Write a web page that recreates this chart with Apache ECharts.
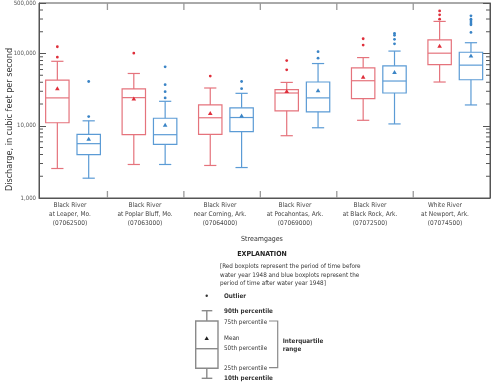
<!DOCTYPE html>
<html>
<head>
<meta charset="utf-8">
<script src="https://cdn.jsdelivr.net/npm/echarts@6/dist/echarts.min.js"></script>
<style>html,body{margin:0;padding:0;background:#fff;}#c{width:491px;height:384px;}</style>
</head>
<body>
<div id="c"></div>
<script>
// ---------------- data ----------------
const categories = [
  "Black River\nat Leaper, Mo.\n(07062500)",
  "Black River\nat Poplar Bluff, Mo.\n(07063000)",
  "Black River\nnear Corning, Ark.\n(07064000)",
  "Black River\nat Pocahontas, Ark.\n(07069000)",
  "Black River\nat Black Rock, Ark.\n(07072500)",
  "White River\nat Newport, Ark.\n(07074500)"
];
// Red: before water year 1948
const redP10    = [2560, 2910, 2820, 7280, 11900, 40300];
const redQ1     = [11000, 7520, 7590, 16100, 23700, 70300];
const redMedian = [24300, 24500, 12900, 28400, 42000, 101000];
const redQ3     = [42900, 32300, 19400, 31600, 63400, 154000];
const redP90    = [78000, 52900, 33300, 39800, 87800, 278000];
const redMean   = [32600, 23500, 14800, 29900, 47200, 126000];
const redOutliers = [[124000, 89000], [101000], [48700], [79900, 59500], [160000, 131000], [389000, 343000, 299000]];
// Blue: after water year 1948
const blueP10    = [1880, 2910, 2640, 9380, 10600, 19400];
const blueQ1     = [3990, 5530, 8270, 15600, 28400, 43300];
const blueMedian = [5650, 7520, 13000, 24300, 41600, 69000];
const blueQ3     = [7590, 12700, 17700, 40300, 67500, 104000];
const blueP90    = [11700, 21800, 28100, 72600, 108000, 141000];
const blueMean   = [6540, 10200, 13700, 30600, 54600, 92700];
const blueOutliers = [[41000, 13400], [65400, 37000, 29600, 24300], [41000, 32600], [106000, 86100], [190000, 179000, 157000, 136000], [332000, 299000, 281000, 264000, 250000, 196000]];
// axis decorations
const minorTickValues = [2000,3000,4000,5000,6000,7000,8000,9000,20000,30000,40000,50000,60000,70000,80000,90000,200000,300000,400000];
const groupEdges = [0.5, 1.5, 2.5, 3.5, 4.5];

// ---------------- styles ----------------
const FONT = '"Liberation Sans Narrow", "DejaVu Sans Condensed", "Liberation Sans", sans-serif';
const RED = '#e5737c', RED_MARK = '#df2f3b';
const BLUE = '#5b9bd5', BLUE_MARK = '#3a84c6';
const AXIS = '#555';
const RED_OFF = -0.155, BLUE_OFF = 0.255, BOX_HALF = 0.153, CAP_HALF = 0.08;

function boxData(p10, q1, med, q3, p90, mean) {
  return p10.map((v, i) => [i, v, q1[i], med[i], q3[i], p90[i], mean[i]]);
}
function outlierData(list) {
  const out = [];
  list.forEach((arr, i) => arr.forEach(v => out.push([i, v])));
  return out;
}
function boxRender(offset, color, markColor) {
  return function (params, api) {
    const x = api.value(0) + offset;
    const yOf = v => api.coord([x, v])[1];
    const cx = api.coord([x, api.value(1)])[0];
    const xl = api.coord([x - BOX_HALF, api.value(1)])[0];
    const xr = api.coord([x + BOX_HALF, api.value(1)])[0];
    const cl = api.coord([x - CAP_HALF, api.value(1)])[0];
    const cr = api.coord([x + CAP_HALF, api.value(1)])[0];
    const y10 = yOf(api.value(1)), y25 = yOf(api.value(2)), y50 = yOf(api.value(3)),
          y75 = yOf(api.value(4)), y90 = yOf(api.value(5)), ym = yOf(api.value(6));
    const ls = { stroke: color, lineWidth: 1.2, fill: null };
    return {
      type: 'group',
      children: [
        { type: 'line', shape: { x1: cx, y1: y10, x2: cx, y2: y25 }, style: ls },
        { type: 'line', shape: { x1: cx, y1: y75, x2: cx, y2: y90 }, style: ls },
        { type: 'line', shape: { x1: cl, y1: y10, x2: cr, y2: y10 }, style: ls },
        { type: 'line', shape: { x1: cl, y1: y90, x2: cr, y2: y90 }, style: ls },
        { type: 'rect', shape: { x: xl, y: y75, width: xr - xl, height: y25 - y75 }, style: ls },
        { type: 'line', shape: { x1: xl, y1: y50, x2: xr, y2: y50 }, style: ls },
        { type: 'polygon', shape: { points: [[cx, ym - 2.4], [cx - 2.3, ym + 1.6], [cx + 2.3, ym + 1.6]] }, style: { fill: markColor } }
      ]
    };
  };
}
function outlierRender(offset, markColor) {
  return function (params, api) {
    const p = api.coord([api.value(0) + offset, api.value(1)]);
    return { type: 'circle', shape: { cx: p[0], cy: p[1], r: 1.4 }, style: { fill: markColor } };
  };
}

const chart = echarts.init(document.getElementById('c'), null, { renderer: 'canvas' });
function txt(x, y, s, bold, align) {
  return { type: 'text', x: x, y: y, silent: true,
    style: { text: s, fill: '#333', font: (bold ? 'bold ' : '') + '6.3px ' + FONT, align: align || 'left', verticalAlign: 'middle' } };
}
const LG = '#8a8a8a';
const option = {
  animation: false,
  backgroundColor: '#fff',
  grid: [
    { left: 39, right: 1, top: 3, bottom: 186, show: true, borderColor: AXIS, borderWidth: 1 },
    { left: 32.5, right: 8.5, top: 3, bottom: 186 }
  ],
  xAxis: [
    { type: 'value', gridIndex: 0, min: -0.395, max: 5.504,
      axisLine: { show: true, onZero: false, lineStyle: { color: AXIS } }, axisTick: { show: false },
      axisLabel: { show: false }, splitLine: { show: false } },
    { type: 'category', gridIndex: 1, data: categories,
      axisLine: { show: false, onZero: false }, axisTick: { show: false }, splitLine: { show: false },
      axisLabel: { interval: 0, fontFamily: FONT, fontSize: 6.5, color: '#444', lineHeight: 9, margin: 3 } }
  ],
  yAxis: [
    { type: 'log', logBase: 10, gridIndex: 0, min: 1000, max: 500000,
      axisLine: { show: true, onZero: false, lineStyle: { color: AXIS } },
      axisTick: { show: true, inside: true, length: 7, lineStyle: { color: AXIS } },
      axisLabel: { fontFamily: FONT, fontSize: 6, color: '#555', margin: 3, showMaxLabel: true, showMinLabel: true,
        formatter: v => Math.round(v).toLocaleString('en-US') },
      splitLine: { show: false } },
    { type: 'log', logBase: 10, gridIndex: 0, min: 1000, max: 500000, position: 'right',
      axisLine: { show: true, onZero: false, lineStyle: { color: AXIS } },
      axisTick: { show: true, inside: true, length: 7, lineStyle: { color: AXIS } },
      axisLabel: { show: false }, splitLine: { show: false } },
    { type: 'value', gridIndex: 1, show: false, axisLine: { onZero: false } }
  ],
  graphic: [
    { type: 'text', x: 10, y: 119.5, rotation: Math.PI / 2, silent: true,
      style: { text: 'Discharge, in cubic feet per second', fill: '#333', font: '9px ' + FONT, align: 'center', verticalAlign: 'middle' } },
    { type: 'text', x: 262, y: 239, silent: true,
      style: { text: 'Streamgages', fill: '#333', font: '7px ' + FONT, align: 'center', verticalAlign: 'middle' } },
    { type: 'text', x: 262, y: 254, silent: true,
      style: { text: 'EXPLANATION', fill: '#222', font: 'bold 7px ' + FONT, align: 'center', verticalAlign: 'middle' } },
    txt(220, 266.7, '[Red boxplots represent the period of time before'),
    txt(220, 275, 'water year 1948 and blue boxplots represent the'),
    txt(220, 283.3, 'period of time after water year 1948]'),
    { type: 'circle', shape: { cx: 206.7, cy: 295.7, r: 1.2 }, style: { fill: '#333' }, silent: true },
    txt(224, 296, 'Outlier', true),
    { type: 'line', shape: { x1: 201.7, y1: 310.7, x2: 212.3, y2: 310.7 }, style: { stroke: LG, lineWidth: 1.4 }, silent: true },
    { type: 'line', shape: { x1: 206.8, y1: 310.7, x2: 206.8, y2: 321 }, style: { stroke: LG, lineWidth: 1.4 }, silent: true },
    { type: 'rect', shape: { x: 195.7, y: 321, width: 22.3, height: 47.3 }, style: { stroke: LG, lineWidth: 1.4, fill: null }, silent: true },
    { type: 'line', shape: { x1: 195.7, y1: 348.7, x2: 218, y2: 348.7 }, style: { stroke: LG, lineWidth: 1.4 }, silent: true },
    { type: 'line', shape: { x1: 206.8, y1: 368.3, x2: 206.8, y2: 378.3 }, style: { stroke: LG, lineWidth: 1.4 }, silent: true },
    { type: 'line', shape: { x1: 201.7, y1: 378.3, x2: 212.3, y2: 378.3 }, style: { stroke: LG, lineWidth: 1.4 }, silent: true },
    { type: 'polygon', shape: { points: [[206.7, 336.2], [204.5, 340], [208.9, 340]] }, style: { fill: '#222' }, silent: true },
    txt(224, 311, '90th percentile', true),
    txt(224, 322.7, '75th percentile'),
    txt(224, 338.7, 'Mean'),
    txt(224, 348.7, '50th percentile'),
    txt(224, 368.7, '25th percentile'),
    txt(224, 378.7, '10th percentile', true),
    { type: 'polyline', shape: { points: [[269, 321], [277.7, 321], [277.7, 367.7], [269, 367.7]] }, style: { stroke: LG, lineWidth: 1.2, fill: null }, silent: true },
    txt(282.7, 341, 'Interquartile', true),
    txt(282.7, 349.3, 'range', true)
  ],
  series: [
    { type: 'custom', name: 'minorTicks', xAxisIndex: 0, yAxisIndex: 0, silent: true,
      data: minorTickValues.map(v => [0, v]), encode: { x: 0, y: 1 },
      renderItem: function (params, api) {
        const cs = params.coordSys;
        const y = api.coord([0, api.value(1)])[1];
        const st = { stroke: AXIS, lineWidth: 1 };
        return { type: 'group', children: [
          { type: 'line', shape: { x1: cs.x, y1: y, x2: cs.x + 4, y2: y }, style: st },
          { type: 'line', shape: { x1: cs.x + cs.width - 4, y1: y, x2: cs.x + cs.width, y2: y }, style: st }
        ] };
      } },
    { type: 'custom', name: 'groupEdges', xAxisIndex: 0, yAxisIndex: 0, silent: true,
      data: groupEdges.map(v => [v, 1000]), encode: { x: 0, y: 1 },
      renderItem: function (params, api) {
        const cs = params.coordSys;
        const x = api.coord([api.value(0), 1000])[0];
        const st = { stroke: '#999', lineWidth: 1.3 };
        return { type: 'group', children: [
          { type: 'line', shape: { x1: x, y1: cs.y, x2: x, y2: cs.y + 7 }, style: st },
          { type: 'line', shape: { x1: x, y1: cs.y + cs.height - 7, x2: x, y2: cs.y + cs.height }, style: st }
        ] };
      } },
    { type: 'custom', name: 'Before 1948', xAxisIndex: 0, yAxisIndex: 0, silent: true,
      data: boxData(redP10, redQ1, redMedian, redQ3, redP90, redMean),
      encode: { x: 0, y: [1, 2, 3, 4, 5, 6] },
      renderItem: boxRender(RED_OFF, RED, RED_MARK) },
    { type: 'custom', name: 'After 1948', xAxisIndex: 0, yAxisIndex: 0, silent: true,
      data: boxData(blueP10, blueQ1, blueMedian, blueQ3, blueP90, blueMean),
      encode: { x: 0, y: [1, 2, 3, 4, 5, 6] },
      renderItem: boxRender(BLUE_OFF, BLUE, BLUE_MARK) },
    { type: 'custom', name: 'Before 1948 outliers', xAxisIndex: 0, yAxisIndex: 0, silent: true,
      data: outlierData(redOutliers), encode: { x: 0, y: 1 },
      renderItem: outlierRender(RED_OFF, RED_MARK) },
    { type: 'custom', name: 'After 1948 outliers', xAxisIndex: 0, yAxisIndex: 0, silent: true,
      data: outlierData(blueOutliers), encode: { x: 0, y: 1 },
      renderItem: outlierRender(BLUE_OFF, BLUE_MARK) }
  ]
};
chart.setOption(option);
</script>
</body>
</html>
